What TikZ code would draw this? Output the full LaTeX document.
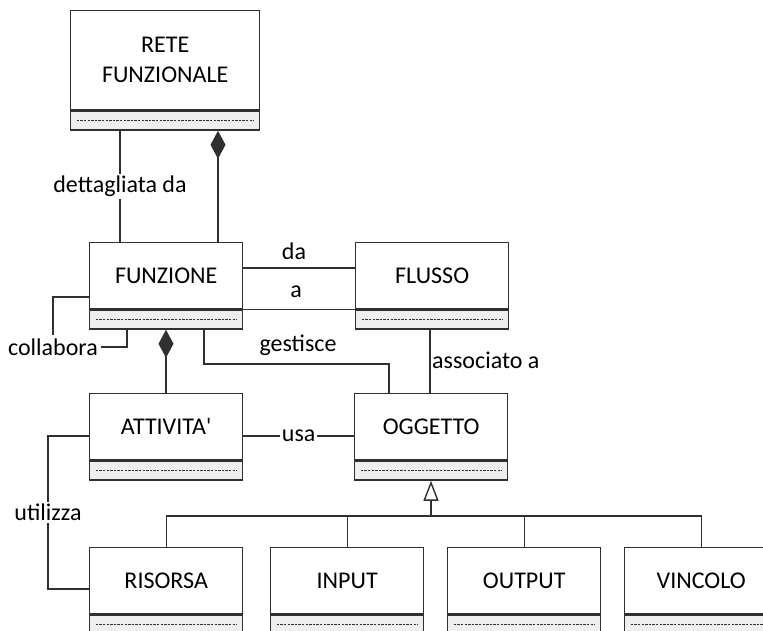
\documentclass[tikz,border=0pt]{standalone}
\usepackage{fontspec}
\setmainfont{Carlito}[Ligatures=TeXOff]
\usetikzlibrary{arrows.meta}
\definecolor{ln}{HTML}{303030}
\definecolor{compfill}{HTML}{EFEFEF}
\tikzset{
  cls/.style={draw=ln, line width=1.4pt, fill=white, minimum width=153pt,
    minimum height=66pt, inner sep=0pt, anchor=north west,
    font=\fontsize{24}{30}\selectfont},
  comp/.style={draw=ln, line width=1.4pt, fill=compfill, minimum width=153pt,
    minimum height=19pt, inner sep=0pt, anchor=north,
    path picture={\draw[ln, line width=1pt, dash pattern=on 2.4pt off 1.2pt]
      ([xshift=6pt]path picture bounding box.west) --
      ([xshift=-6pt]path picture bounding box.east);}},
  conn/.style={draw=ln, line width=1.4pt},
  lbl/.style={font=\fontsize{24}{30}\selectfont, inner sep=2pt},
  lblw/.style={lbl, fill=white},
}
\begin{document}
\begin{tikzpicture}[x=1pt,y=-1pt]
\useasboundingbox (0,0) rectangle (763,630);

% classes
\node[cls, minimum width=189pt, minimum height=99pt, align=center] (rete) at (70,10) {RETE\\FUNZIONALE};
\node[comp, minimum width=189pt] (reteC) at (rete.south) {};

\node[cls] (fun) at (89,242) {FUNZIONE};
\node[comp] (funC) at (fun.south) {};
\node[cls] (flu) at (355,242) {FLUSSO};
\node[comp] (fluC) at (flu.south) {};

\node[cls] (att) at (89,393) {ATTIVITA'};
\node[comp] (attC) at (att.south) {};
\node[cls] (ogg) at (354,393) {OGGETTO};
\node[comp] (oggC) at (ogg.south) {};

\node[cls] (ris) at (89,547) {RISORSA};
\node[comp] (risC) at (ris.south) {};
\node[cls] (inp) at (270,547) {INPUT};
\node[comp] (inpC) at (inp.south) {};
\node[cls] (out) at (447,547) {OUTPUT};
\node[comp] (outC) at (out.south) {};
\node[cls] (vin) at (624,547) {VINCOLO};
\node[comp] (vinC) at (vin.south) {};

% helper coordinates for connector routing
\coordinate (c120) at (120,0);
\coordinate (c218) at (218,0);
\coordinate (c127) at (127,0);
\coordinate (c166) at (166,0);
\coordinate (c430) at (430,0);
\coordinate (c431) at (431,0);
\coordinate (k1) at (53,297);
\coordinate (g1) at (204,364);
\coordinate (g2) at (389,364);
\coordinate (yda) at (0,268);
\coordinate (yuse) at (0,436);
\coordinate (u1) at (48,436);
\coordinate (u2) at (48,589);
\coordinate (gy) at (0,516);

% RETE FUNZIONALE -- FUNZIONE
\draw[conn] (reteC.south -| c120) -- node[lblw] (det) {dettagliata da} (fun.north -| c120);
\draw[conn, -{Diamond[length=28pt,width=15pt]}] (fun.north -| c218) -- (reteC.south -| c218);

% collabora (self association)
\node[lbl, inner sep=3pt] (col) at (53,347) {collabora};
\draw[conn] (fun.west |- k1) -| (col.north);
\draw[conn] (col.east) -| (funC.south -| c127);

% FUNZIONE -- FLUSSO
\draw[conn] (fun.east |- yda) -- (flu.west |- yda);
\node[lbl] (da) at (294,251) {da};
\draw[conn] (funC.north east) -- (fluC.north west);
\node[lbl] (a) at (296,292) {a};

% FUNZIONE -- ATTIVITA'
\draw[conn, -{Diamond[length=28pt,width=15pt]}] (att.north -| c166) -- (funC.south -| c166);

% gestisce
\draw[conn] (funC.south -| g1) -- (g1) -- (g2) -- (ogg.north -| g2);
\node[lbl] (gest) at (298,345) {gestisce};

% associato a
\draw[conn] (fluC.south -| c430) -- (ogg.north -| c430);
\node[lbl, anchor=west] (ass) at (430,360) {associato a};

% usa
\draw[conn] (att.east |- yuse) -- node[lblw] (usa) {usa} (ogg.west |- yuse);

% utilizza
\draw[conn] (att.west |- yuse) -- (u1) -- node[lblw] (uti) {utilizza} (u2) -- (ris.west |- u2);

% generalisation of OGGETTO
\draw[conn, -{Triangle[open, fill=white, length=20pt, width=15pt]}] (gy -| c431) -- (oggC.south -| c431);
\draw[conn] (ris.north) |- (gy -| vin.north) -- (vin.north);
\draw[conn] (inp.north) -- (gy -| inp.north);
\draw[conn] (out.north) -- (gy -| out.north);
\end{tikzpicture}
\end{document}
